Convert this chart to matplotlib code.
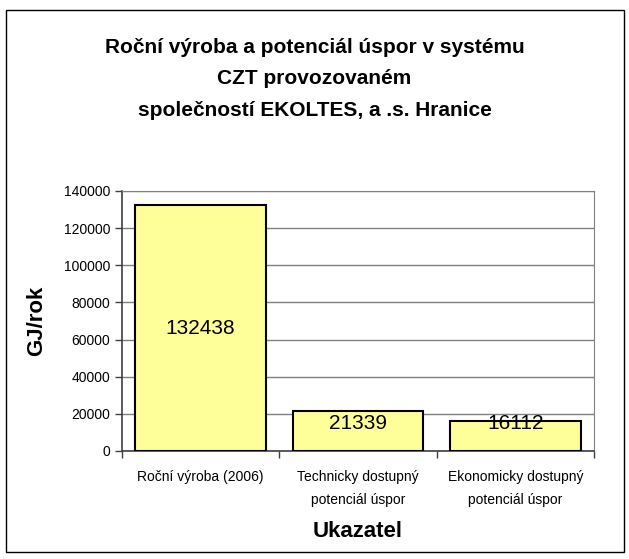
import matplotlib
matplotlib.use("Agg")
import matplotlib.pyplot as plt
from matplotlib.patches import Rectangle
from matplotlib.ticker import FixedLocator, NullFormatter

plt.rcParams["font.family"] = ["Liberation Sans", "DejaVu Sans"]

# Data
categories = ["Roční výroba (2006)", "Technicky dostupný\npotenciál úspor",
              "Ekonomicky dostupný\npotenciál úspor"]
values = [132438, 21339, 16112]
y_ticks = [0, 20000, 40000, 60000, 80000, 100000, 120000, 140000]

BAR_COLOR = "#ffff99"
GRID_COLOR = "#808080"

fig = plt.figure(figsize=(6.29, 5.59), dpi=100)
W, H = 629, 559

# outer chart frame
fig.patches.append(Rectangle((6 / W, 1 - 552 / H), 618 / W, 542 / H,
                             transform=fig.transFigure, fill=False,
                             edgecolor="#000000", linewidth=1.0))

ax = fig.add_axes([122 / W, 1 - 451 / H, (594 - 122) / W, (451 - 191) / H])

x = list(range(len(values)))
ax.bar(x, values, width=0.83, color=BAR_COLOR, edgecolor="black",
       linewidth=1.5, zorder=3)
ax.set_xlim(-0.5, len(values) - 0.5)
ax.set_ylim(0, 140000)

# value labels, kept off the very bottom of short bars
for xi, v in zip(x, values):
    ax.text(xi, max(v / 2, 15000), str(v), ha="center", va="center",
            fontsize=15, zorder=4)

ax.set_yticks(y_ticks)
ax.set_yticklabels([str(t) for t in y_ticks], fontsize=10)
ax.yaxis.grid(True, color=GRID_COLOR, linewidth=1.0, zorder=0)
ax.tick_params(axis="y", direction="out", length=5, width=1, color="#404040")

# category labels centred, tick marks between categories
ax.xaxis.set_major_locator(FixedLocator([-0.5, 0.5, 1.5, 2.5]))
ax.xaxis.set_major_formatter(NullFormatter())
ax.tick_params(axis="x", which="major", direction="out", length=5,
               width=1, color="#404040")
ax.set_xticks(x, minor=True)
ax.set_xticklabels(categories, minor=True, fontsize=10, linespacing=1.75)
ax.tick_params(axis="x", which="minor", length=0, pad=14)

ax.spines["left"].set_color("#404040")
ax.spines["bottom"].set_color("#404040")
ax.spines["left"].set_linewidth(1.2)
ax.spines["bottom"].set_linewidth(1.2)
ax.spines["top"].set_color(GRID_COLOR)
ax.spines["right"].set_color(GRID_COLOR)

ax.set_ylabel("GJ/rok", fontsize=16, fontweight="bold", labelpad=12)
ax.set_xlabel("Ukazatel", fontsize=16, fontweight="bold", labelpad=10)

fig.text(0.5, 1 - 79 / H,
         "Roční výroba a potenciál úspor v systému\nCZT provozovaném\n"
         "společností EKOLTES, a .s. Hranice",
         ha="center", va="center", fontsize=15, fontweight="bold",
         linespacing=1.85)

fig.savefig("out.png", dpi=100)
